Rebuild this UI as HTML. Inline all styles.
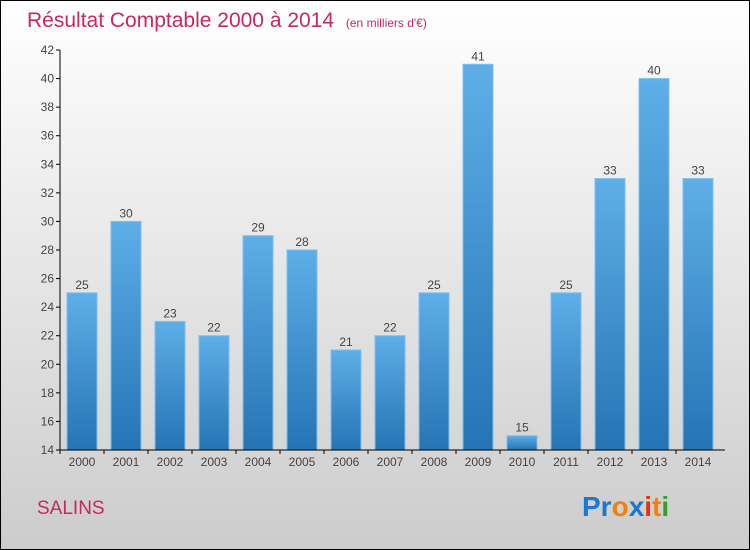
<!DOCTYPE html>
<html><head><meta charset="utf-8"><style>
body{margin:0;width:750px;height:550px;overflow:hidden}
svg{display:block;font-family:"Liberation Sans",sans-serif}
</style></head><body>
<svg id="c" width="750" height="550">
<defs>
<linearGradient id="bg" x1="0" y1="0" x2="0" y2="1"><stop offset="0" stop-color="#ffffff"/><stop offset="1" stop-color="#cccccc"/></linearGradient>
<linearGradient id="bar" x1="0" y1="0" x2="0" y2="1"><stop offset="0" stop-color="#5eaee8"/><stop offset="1" stop-color="#2574b4"/></linearGradient>
</defs>
<rect x="0.5" y="0.5" width="749" height="549" fill="url(#bg)" stroke="#000"/>
<text x="27" y="27" font-size="21" fill="#c8285a">Résultat Comptable 2000 à 2014 <tspan font-size="12" dx="6">(en milliers d'€)</tspan></text>
<g id="plot"></g>
<text x="37" y="514" font-size="19" fill="#c8285a">SALINS</text>
<text x="582" y="516" font-size="28" font-weight="bold"><tspan fill="#1a78d0">Pr</tspan><tspan fill="#f08010">o</tspan><tspan fill="#1a78d0">x</tspan><tspan fill="#e83010">i</tspan><tspan fill="#f08010">t</tspan><tspan fill="#30a030">i</tspan></text>
</svg>
<script>
const years=["2000","2001","2002","2003","2004","2005","2006","2007","2008","2009","2010","2011","2012","2013","2014"];
const values=[25,30,23,22,29,28,21,22,25,41,15,25,33,40,33];
const yTicks=[14,16,18,20,22,24,26,28,30,32,34,36,38,40,42];
const NS="http://www.w3.org/2000/svg";
const g=document.getElementById('plot');
const y=v=>450-(v-14)*400/28;
const x=i=>82+i*44;
function el(t,a){const e=document.createElementNS(NS,t);for(const k in a)e.setAttribute(k,a[k]);g.appendChild(e);return e;}
yTicks.forEach(t=>{
 const l=el('line',{x1:56,x2:60,y1:y(t),y2:y(t),stroke:'#000'});
 
 
 const tx=el('text',{x:54,y:y(t)+4,'font-size':12,'text-anchor':'end',fill:'#444'});
 tx.textContent=t;
 
 
});
values.forEach((v,i)=>{
 const r=el('rect',{x:x(i)-15,y:y(v),width:30,height:450-y(v),fill:'url(#bar)',stroke:'#7cc0f0','stroke-width':1});
 
 
 const t=el('text',{x:x(i),y:y(v)-4,'font-size':12,'text-anchor':'middle',fill:'#444'});
 t.textContent=v;
 
 
 const xl=el('text',{x:x(i),y:466,'font-size':12,'text-anchor':'middle',fill:'#444'});
 xl.textContent=years[i];
 
 
 const tk=el('line',{x1:x(i)-22,x2:x(i)-22,y1:450,y2:454,stroke:'#000'});
 
 
});
const ya=el('line',{x1:60,x2:60,y1:50,y2:450,stroke:'#000'});


const xa=el('line',{x1:60,x2:725,y1:450,y2:450,stroke:'#000'});


</script>
</body></html>
